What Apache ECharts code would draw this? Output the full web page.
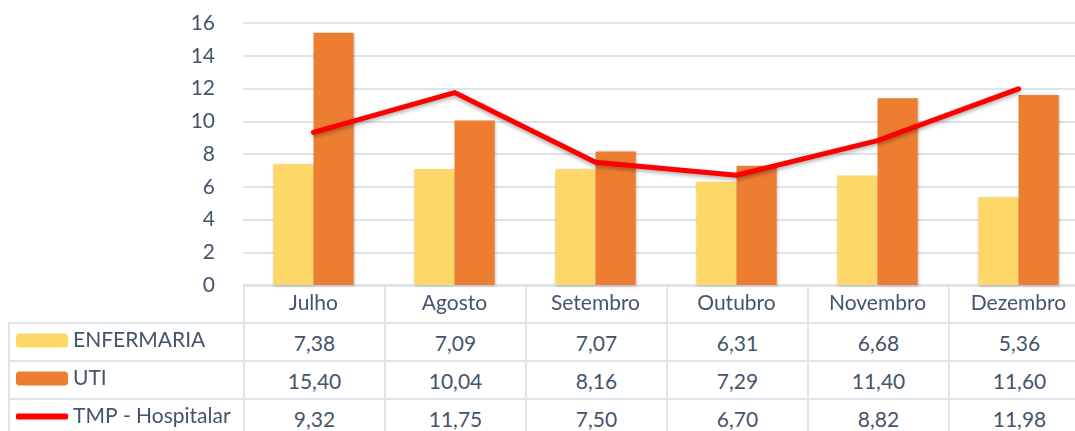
<!DOCTYPE html>
<html>
<head>
<meta charset="utf-8">
<script src="https://cdn.jsdelivr.net/npm/echarts@6/dist/echarts.min.js"></script>
<style>
  html, body { margin: 0; padding: 0; background: #fff; }
  #wrap { position: relative; width: 1075px; height: 431px; overflow: hidden; font-family: Lato, 'Noto Sans', sans-serif; }
  #tbl { position: absolute; left: 8px; top: 285px; width: 1081px; border-collapse: collapse; table-layout: fixed; }
  #tbl td { border: 2px solid #dfe3ea; padding: 0; text-align: center; color: #44546a; font-size: 21px; }
  #tbl tr.head td { height: 35px; }
  #tbl tr.row td { height: 36px; }
  #tbl tr.head td.blank { border-top: none; border-left: none; }
  #chart { position: absolute; left: 0; top: 0; width: 1089px; height: 431px; }
</style>
</head>
<body>
<div id="wrap">
  <table id="tbl"></table>
  <div id="chart"></div>
</div>
<script>
const months = ['Julho', 'Agosto', 'Setembro', 'Outubro', 'Novembro', 'Dezembro']
const enfermaria = [7.38, 7.09, 7.07, 6.31, 6.68, 5.36]
const uti = [15.40, 10.04, 8.16, 7.29, 11.40, 11.60]
const tmp = [9.32, 11.75, 7.50, 6.70, 8.82, 11.98]
const seriesNames = ['ENFERMARIA', 'UTI', 'TMP - Hospitalar']

const textColor = '#44546a'
const fmt = v => v.toFixed(2).replace('.', ',')

// data table under the plot (borders + values); month names come from the x axis
const tbl = document.getElementById('tbl')
let html = '<colgroup><col style="width:235px">'
months.forEach(() => { html += '<col style="width:141px">' })
html += '</colgroup><tr class="head"><td class="blank"></td>'
months.forEach(() => { html += '<td></td>' })
html += '</tr>'
;[enfermaria, uti, tmp].forEach(arr => {
    html += '<tr class="row"><td></td>'
    arr.forEach(v => { html += '<td>' + fmt(v) + '</td>' })
    html += '</tr>'
})
tbl.innerHTML = html

const chart = echarts.init(document.getElementById('chart'))

const legendBase = {
    left: 16,
    padding: 0,
    itemWidth: 52,
    itemHeight: 14,
    itemGap: 0,
    selectedMode: false,
    textStyle: { color: textColor, fontSize: 21, fontFamily: 'Lato' }
}

const option = {
    animation: false,
    textStyle: { fontFamily: 'Lato' },
    legend: [
        Object.assign({}, legendBase, { top: 330, data: [seriesNames[0]] }),
        Object.assign({}, legendBase, { top: 368, data: [seriesNames[1]] }),
        Object.assign({}, legendBase, { top: 406, itemHeight: 6, data: [{ name: seriesNames[2], icon: 'roundRect' }] })
    ],
    grid: { left: 243, top: 23, right: 0, bottom: 146 },
    xAxis: {
        type: 'category',
        data: months,
        axisLine: { show: false },
        axisTick: { show: false },
        axisLabel: { color: textColor, fontSize: 21, margin: 8 }
    },
    yAxis: {
        type: 'value',
        min: 0,
        max: 16,
        interval: 2,
        axisLine: { show: false },
        axisTick: { show: false },
        axisLabel: { color: textColor, fontSize: 21, margin: 28 },
        splitLine: { lineStyle: { color: '#dfe3ea', width: 2 } }
    },
    series: [
        {
            name: seriesNames[0],
            type: 'bar',
            data: enfermaria,
            barGap: '0%',
            barCategoryGap: '43%',
            itemStyle: { color: '#fdd868', shadowColor: 'rgba(0,0,0,0.25)', shadowBlur: 3, shadowOffsetX: 1, shadowOffsetY: 1 }
        },
        {
            name: seriesNames[1],
            type: 'bar',
            data: uti,
            itemStyle: { color: '#ed7d31', shadowColor: 'rgba(0,0,0,0.25)', shadowBlur: 3, shadowOffsetX: 1, shadowOffsetY: 1 }
        },
        {
            name: seriesNames[2],
            type: 'line',
            data: tmp,
            symbol: 'none',
            z: 5,
            itemStyle: { color: '#ff0000' },
            lineStyle: { color: '#ff0000', width: 5, cap: 'round', join: 'round', shadowColor: 'rgba(0,0,0,0.35)', shadowBlur: 4, shadowOffsetY: 2 }
        }
    ]
}

chart.setOption(option)
</script>
</body>
</html>
